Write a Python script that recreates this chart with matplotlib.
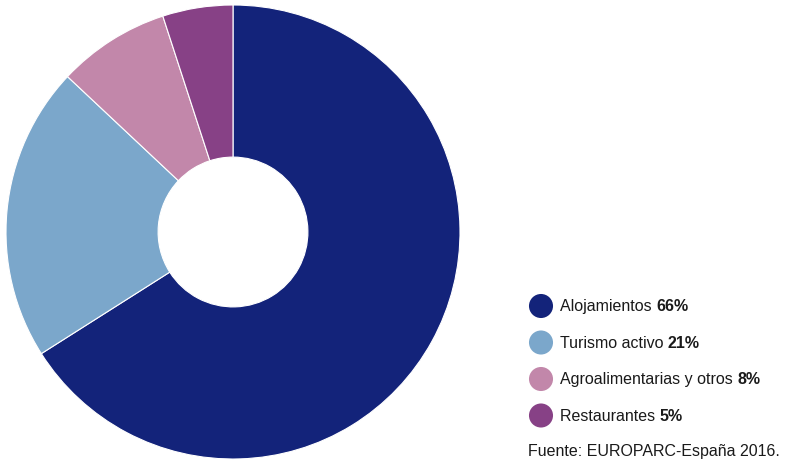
import matplotlib.pyplot as plt

labels = ["Alojamientos", "Turismo activo", "Agroalimentarias y otros", "Restaurantes"]
values = [66, 21, 8, 5]
colors = ["#13237a", "#7ba7cb", "#c287aa", "#874186"]
source = "Fuente: EUROPARC-España 2016."

plt.rcParams["font.family"] = ["Liberation Sans", "DejaVu Sans"]

W, H = 785, 464
fig = plt.figure(figsize=(W / 100, H / 100), dpi=100)

# donut
ax = fig.add_axes([6 / W, 4 / H, 454 / W, 454 / H])
ax.pie(values, colors=colors, startangle=90, counterclock=False,
       radius=1.0, wedgeprops=dict(width=0.67, edgecolor="white", linewidth=0.8))
ax.set_xlim(-1, 1)
ax.set_ylim(-1, 1)
ax.set_aspect("equal")

# legend, drawn in pixel coords
lg = fig.add_axes([0, 0, 1, 1])
lg.set_xlim(0, W)
lg.set_ylim(H, 0)
lg.axis("off")
y0, dy = 307, 36.5
for i, (lab, v, c) in enumerate(zip(labels, values, colors)):
    y = y0 + i * dy
    lg.scatter([541], [y], s=300, color=c, edgecolors="none")
    t = lg.text(560, y, lab + " ", fontsize=11.5, color="#1a1a1a", va="center")
    lg.annotate(f"{v}%", xy=(1, 0.5), xycoords=t, va="center", ha="left",
                fontsize=11.5, fontweight="bold", color="#1a1a1a")
lg.text(528, 452, source, fontsize=11.5, color="#1a1a1a", va="center")

fig.savefig("out.png", dpi=100)
